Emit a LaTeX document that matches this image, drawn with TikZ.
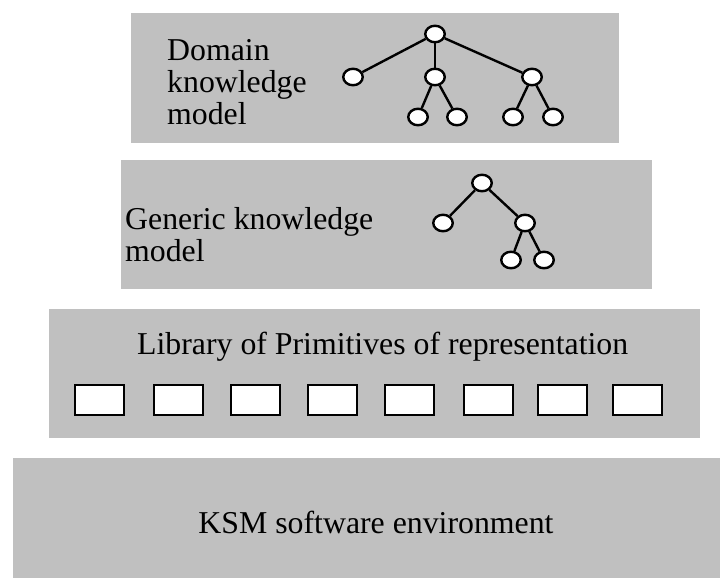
\documentclass[tikz,border=0pt]{standalone}
\usepackage{fontspec}
\setmainfont{Liberation Serif}
\usetikzlibrary{shapes.geometric}
\definecolor{panel}{RGB}{192,192,192}
\begin{document}
\begin{tikzpicture}[x=1pt,y=-1pt,
  layer/.style={fill=panel, draw=none},
  knot/.style={ellipse, draw, fill=white, line width=2.4pt,
    minimum width=19.5pt, minimum height=16.5pt, inner sep=0pt},
  prim/.style={draw, fill=white, line width=2.2pt,
    minimum width=49pt, minimum height=30pt, inner sep=0pt, anchor=north west},
  link/.style={line width=2.4pt},
  caption/.style={font=\fontsize{31.8}{32}\selectfont, inner sep=0pt, align=left}]

\useasboundingbox (0,0) rectangle (720,578);

% stacked layers
\fill[layer] (131,13) rectangle (619,143);
\fill[layer] (121,160) rectangle (652,289);
\fill[layer] (49,309) rectangle (700,438);
\fill[layer] (13,458) rectangle (720,578);

% layer captions (base anchor sits on the last line)
\node[caption, anchor=base west] (dom) at (167,124) {Domain\\knowledge\\model};
\node[caption, anchor=base west] (gen) at (125,261) {Generic knowledge\\model};
\node[caption, anchor=base west] (lib) at (137,354) {Library of Primitives of representation};
\node[caption, anchor=base] (ksm) at (376,533) {KSM software environment};

% domain knowledge tree
\node[knot] (d0) at (435,34) {};
\node[knot] (d1) at (353,77) {};
\node[knot] (d2) at (435,77) {};
\node[knot] (d3) at (532,77) {};
\node[knot] (d21) at (418,117) {};
\node[knot] (d22) at (457,117) {};
\node[knot] (d31) at (513,117) {};
\node[knot] (d32) at (553,117) {};
\draw[link] (d0) -- (d1);
\draw[link] (d0) -- (d2);
\draw[link] (d0) -- (d3);
\draw[link] (d2) -- (d21);
\draw[link] (d2) -- (d22);
\draw[link] (d3) -- (d31);
\draw[link] (d3) -- (d32);

% generic knowledge tree
\node[knot] (g0) at (482,183) {};
\node[knot] (g1) at (443,223) {};
\node[knot] (g2) at (525,223) {};
\node[knot] (g21) at (511,260) {};
\node[knot] (g22) at (544,260) {};
\draw[link] (g0) -- (g1);
\draw[link] (g0) -- (g2);
\draw[link] (g2) -- (g21);
\draw[link] (g2) -- (g22);

% primitives
\foreach \i/\x in {1/73,2/152,3/229,4/306,5/383,6/462,7/536,8/611}
  \node[prim] (p\i) at (\x+1.1,384.1) {};

\end{tikzpicture}
\end{document}
